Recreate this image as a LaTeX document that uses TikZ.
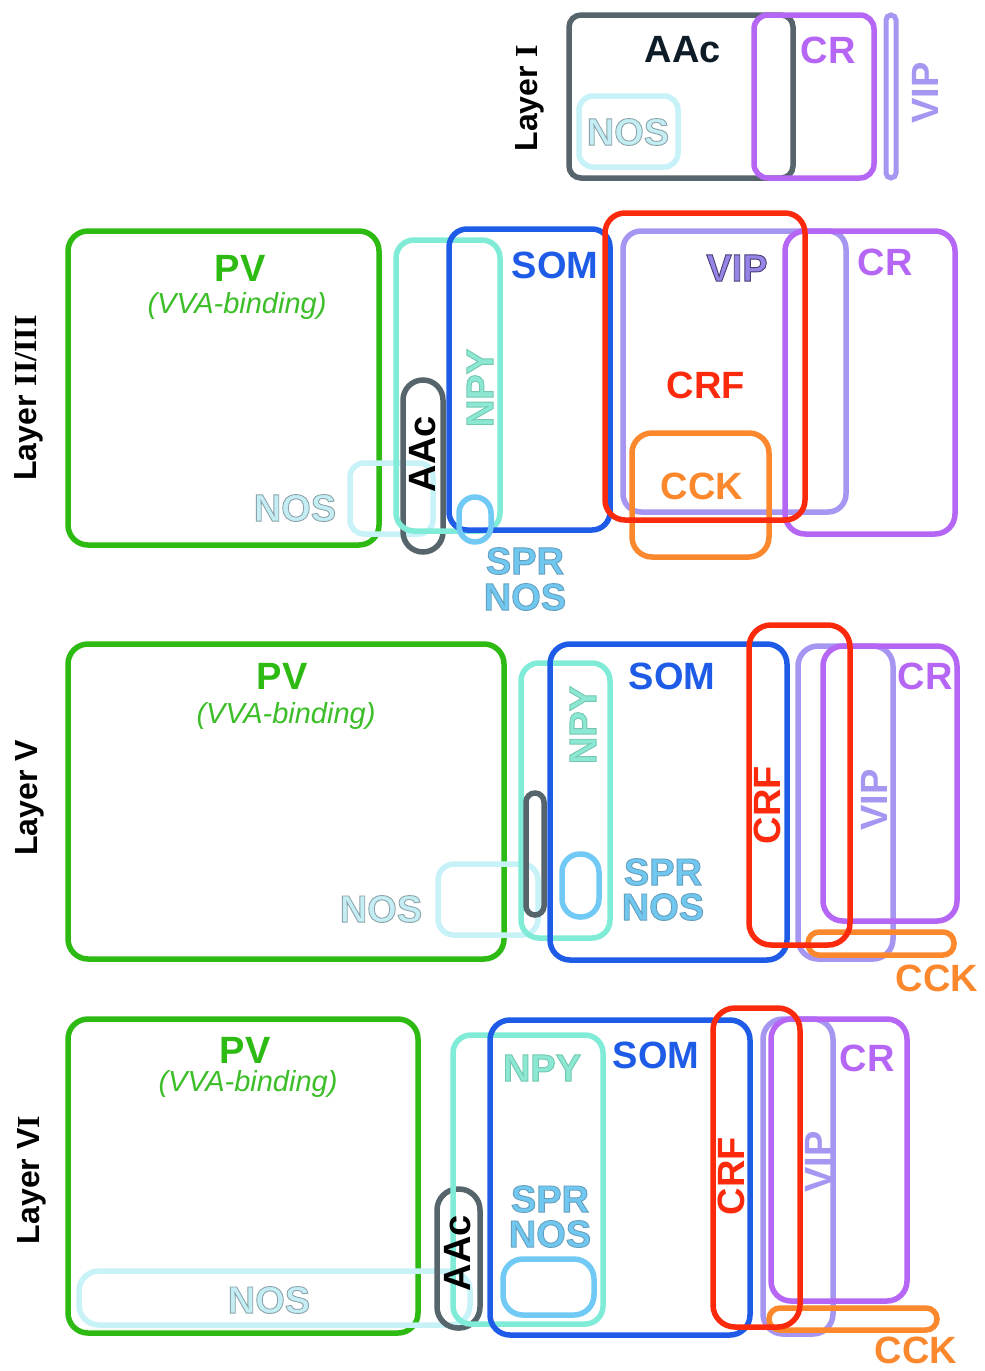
\documentclass[tikz,border=0pt]{standalone}
\usepackage{fontspec}
\setmainfont{Liberation Sans}
\newfontfamily\romfont{Liberation Serif}
\definecolor{cgreen}{RGB}{45,186,18}
\definecolor{cgreenlt}{RGB}{60,190,40}
\definecolor{cgray}{RGB}{86,100,107}
\definecolor{cpurple}{RGB}{182,102,244}
\definecolor{clav}{RGB}{166,150,242}
\definecolor{cviptxt}{RGB}{150,132,230}
\definecolor{cblue}{RGB}{30,92,232}
\definecolor{cred}{RGB}{252,42,12}
\definecolor{corange}{RGB}{252,136,46}
\definecolor{cnpy}{RGB}{128,236,216}
\definecolor{cnpytxt}{RGB}{140,232,210}
\definecolor{cnos}{RGB}{198,242,248}
\definecolor{cnostxt}{RGB}{196,238,244}
\definecolor{cspr}{RGB}{112,202,245}
\definecolor{csprtxt}{RGB}{112,200,240}
\definecolor{cdark}{RGB}{14,28,40}
% outlined text: #1 = stroke rgb (0-1), #2 = text
\newcommand\otxt[2]{\special{pdf:literal direct 2 Tr 0.9 w #1 RG}#2\special{pdf:literal direct 0 Tr 0.4 w}}
\tikzset{
  bx/.style={line width=5.5pt, rounded corners=#1},
  bx/.default=18pt,
  lbl/.style={inner sep=0pt, font=\fontsize{38}{33}\selectfont\bfseries, align=center},
  sub/.style={inner sep=0pt, font=\fontsize{29}{30}\selectfont\itshape, text=cgreenlt},
  layer/.style={inner sep=0pt, rotate=90, font=\fontsize{32}{32}\selectfont\bfseries, text=black},
}
\begin{document}
\begin{tikzpicture}[x=1pt,y=-1pt]
\useasboundingbox (0,0) rectangle (985,1371);
\fill[white] (0,0) rectangle (985,1371);

% ===== Layer I =====
\draw[bx=12pt, cgray] (569,15) rectangle (793,178);
\draw[bx=14pt, cnos] (579,96) rectangle (678,167);
\draw[bx=14pt, cpurple] (754,15) rectangle (874,178);
\draw[line width=5pt, rounded corners=5pt, clav] (886,15) rectangle (896,178);
\node[layer] (l1) at (530,98) {Layer {\romfont\bfseries I}};
\node[lbl, text=cdark] (l1aac) at (683,50) {AAc};
\node[lbl, text=cpurple] (l1cr) at (828,50) {CR};
\node[lbl, text=clav, rotate=90] (l1vip) at (925,93) {VIP};
\node[lbl, text=cnostxt] (l1nos) at (628,132) {\otxt{0.55 0.64 0.67}{NOS}};

% ===== Layer II/III =====
\draw[bx=20pt, cgreen] (68,231) rectangle (379,545);
\draw[bx=14pt, cnos] (350,463) rectangle (433,534);
\draw[bx=20pt, cgray] (403,380) rectangle (443,552);
\draw[bx=18pt, cnpy] (396,240) rectangle (500,531);
\draw[bx=18pt, cblue] (449,229) rectangle (610,530);
\draw[bx=16pt, cspr] (459,497) rectangle (491,542);
\draw[bx=18pt, clav] (623,231) rectangle (846,512);
\draw[bx=20pt, cpurple] (785,231) rectangle (955,534);
\draw[bx=20pt, corange] (632,433) rectangle (769,557);
\draw[bx=20pt, cred] (605,213) rectangle (805,520);
\node[layer] (l2) at (29,398) {Layer {\romfont\bfseries II/III}};
\node[lbl, text=cgreen] (l2pv) at (240,268) {PV};
\node[sub] (l2vva) at (237,306) {(VVA-binding)};
\node[lbl, text=cnostxt] (l2nos) at (295,508) {\otxt{0.55 0.64 0.67}{NOS}};
\node[lbl, text=black, rotate=90] (l2aac) at (423,454) {AAc};
\node[lbl, text=cnpytxt, rotate=90] (l2npy) at (480,388) {\otxt{0.45 0.78 0.70}{NPY}};
\node[lbl, text=cblue] (l2som) at (555,265) {SOM};
\node[lbl, text=csprtxt] (l2spr) at (525,561) {\otxt{0.40 0.62 0.74}{SPR}};
\node[lbl, text=csprtxt] (l2nos2) at (525,597) {\otxt{0.40 0.62 0.74}{NOS}};
\node[lbl, text=cviptxt] (l2vip) at (737,268) {\otxt{0.30 0.24 0.45}{VIP}};
\node[lbl, text=cpurple] (l2cr) at (885,262) {CR};
\node[lbl, text=cred] (l2crf) at (706,385) {CRF};
\node[lbl, text=corange] (l2cck) at (702,486) {CCK};

% ===== Layer V =====
\draw[bx=20pt, cgreen] (68,644) rectangle (504,959);
\draw[bx=16pt, cnos] (438,864) rectangle (538,935);
\draw[bx=18pt, cnpy] (521,663) rectangle (610,938);
\draw[bx=9pt, cgray] (526,793) rectangle (544,915);
\draw[bx=20pt, cblue] (550,644) rectangle (787,960);
\draw[bx=18pt, cspr] (562,854) rectangle (599,917);
\draw[bx=20pt, clav] (798,646) rectangle (893,959);
\draw[bx=20pt, cpurple] (823,646) rectangle (957,921);
\draw[bx=11pt, corange] (808,932) rectangle (954,955);
\draw[bx=22pt, cred] (749,625) rectangle (850,945);
\node[layer] (l5) at (30,798) {Layer V};
\node[lbl, text=cgreen] (l5pv) at (282,676) {PV};
\node[sub] (l5vva) at (286,716) {(VVA-binding)};
\node[lbl, text=cnostxt] (l5nos) at (381,909) {\otxt{0.55 0.64 0.67}{NOS}};
\node[lbl, text=cnpytxt, rotate=90] (l5npy) at (583,725) {\otxt{0.45 0.78 0.70}{NPY}};
\node[lbl, text=cblue] (l5som) at (672,676) {SOM};
\node[lbl, text=csprtxt] (l5spr) at (663,872) {\otxt{0.40 0.62 0.74}{SPR}};
\node[lbl, text=csprtxt] (l5nos2) at (663,907) {\otxt{0.40 0.62 0.74}{NOS}};
\node[lbl, text=cred, rotate=90] (l5crf) at (767,805) {CRF};
\node[lbl, text=clav, rotate=90] (l5vip) at (874,800) {VIP};
\node[lbl, text=cpurple] (l5cr) at (925,676) {CR};
\node[lbl, text=corange] (l5cck) at (937,978) {CCK};

% ===== Layer VI =====
\draw[bx=20pt, cgreen] (68,1019) rectangle (418,1333);
\draw[bx=20pt, cnos] (79,1271) rectangle (470,1325);
\draw[bx=21pt, cgray] (437,1189) rectangle (480,1328);
\draw[bx=18pt, cnpy] (453,1035) rectangle (603,1324);
\draw[bx=20pt, cblue] (490,1020) rectangle (750,1335);
\draw[bx=20pt, cspr] (503,1259) rectangle (594,1315);
\draw[bx=20pt, clav] (763,1019) rectangle (833,1334);
\draw[bx=20pt, cpurple] (771,1019) rectangle (907,1301);
\draw[bx=11pt, corange] (769,1308) rectangle (937,1330);
\draw[bx=22pt, cred] (713,1008) rectangle (800,1327);
\node[layer] (l6) at (32,1180) {Layer V{\romfont\bfseries I}};
\node[lbl, text=cgreen] (l6pv) at (245,1050) {PV};
\node[sub] (l6vva) at (248,1084) {(VVA-binding)};
\node[lbl, text=cnostxt] (l6nos) at (269,1300) {\otxt{0.55 0.64 0.67}{NOS}};
\node[lbl, text=black, rotate=90] (l6aac) at (458,1253) {AAc};
\node[lbl, text=cnpytxt] (l6npy) at (542,1068) {\otxt{0.45 0.78 0.70}{NPY}};
\node[lbl, text=cblue] (l6som) at (656,1055) {SOM};
\node[lbl, text=csprtxt] (l6spr) at (550,1199) {\otxt{0.40 0.62 0.74}{SPR}};
\node[lbl, text=csprtxt] (l6nos2) at (550,1234) {\otxt{0.40 0.62 0.74}{NOS}};
\node[lbl, text=cred, rotate=90] (l6crf) at (731,1176) {CRF};
\node[lbl, text=clav, rotate=90] (l6vip) at (818,1162) {VIP};
\node[lbl, text=cpurple] (l6cr) at (867,1058) {CR};
\node[lbl, text=corange] (l6cck) at (916,1350) {CCK};
\end{tikzpicture}
\end{document}
